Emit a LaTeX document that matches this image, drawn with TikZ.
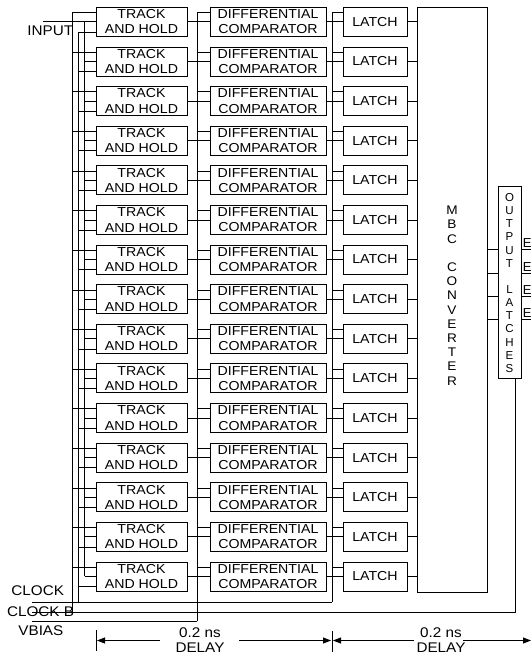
\documentclass[tikz,border=0pt]{standalone}
\usepackage{fontspec}
\setmainfont{Liberation Sans}
\newfontfamily\wfont[FakeStretch=1.09]{Liberation Sans}
\usetikzlibrary{arrows.meta}
\begin{document}
\begin{tikzpicture}[x=1pt,y=-1pt,
  line width=0.8pt,
  box/.style={draw, line width=0.8pt, inner sep=0pt, align=center, minimum height=29pt, font=\wfont\fontsize{13}{15.3}\selectfont},
  thbox/.style={box, minimum width=91pt},
  dcbox/.style={box, minimum width=116pt},
  labox/.style={box, minimum width=64pt},
  lbl/.style={inner sep=0pt, font=\wfont\fontsize{14}{15}\selectfont},
  dly/.style={lbl, align=center},
  vtext/.style={inner sep=0pt, align=center},
  darr/.style={-{Triangle[length=8pt,width=6pt]}},
]
\useasboundingbox (0,0) rectangle (531,658);

% rows of boxes
\foreach \i in {0,...,14}{
  \pgfmathsetmacro{\yc}{7.3+39.62*\i+14.5}
  \node[thbox] (th\i) at (141.5,\yc) {TRACK\\AND HOLD};
  \node[dcbox] (dc\i) at (268,\yc) {DIFFERENTIAL\\COMPARATOR};
  \node[labox] (la\i) at (375,\yc) {LATCH};
}

% MBC converter
\node[draw, inner sep=0pt, minimum width=70pt, minimum height=584.7pt] (mbc) at (452,299.65) {};
\node[vtext, font=\wfont\fontsize{12.5}{14.2}\selectfont] (mbctext) at (452,295.5)
  {M\\B\\C\\~\\C\\O\\N\\V\\E\\R\\T\\E\\R};

% output latches
\node[draw, inner sep=0pt, minimum width=23pt, minimum height=192pt] (ol) at (509.5,282) {};
\node[vtext, font=\fontsize{11.5}{13.15}\selectfont] (oltext) at (509.5,283)
  {O\\U\\T\\P\\U\\T\\~\\L\\A\\T\\C\\H\\E\\S};

% row connectors
\foreach \i in {0,...,14}{
  \pgfmathsetmacro{\yt}{7.3+39.62*\i+5.3}
  \pgfmathsetmacro{\yb}{7.3+39.62*\i+24.7}
  \draw (th\i.east) -- (dc\i.west);
  \draw (dc\i.east) -- (la\i.west);
  \draw (la\i.east) -- (mbc.west |- la\i.east);
  \draw (72.3,\yt) -- (th\i.west |- 0,\yt);
  \draw (78.5,\yb) -- (th\i.west |- 0,\yb);
  \draw (197,\yt) -- (dc\i.west |- 0,\yt);
  \draw (332,\yt) -- (la\i.west |- 0,\yt);
}
\foreach \i in {1,...,14}{
  \draw (84.5,0 |- th\i.west) -- (th\i.west);
}
\coordinate (inStart) at (43,0 |- th0.west);
\draw (inStart) -- (th0.west);

% buses
\draw (72.3,12.6) -- (72.3,612);
\draw (78.5,32) -- (78.5,602);
\draw (84.5,0 |- th0.west) -- (84.5,0 |- th14.west);
\draw (197,12.6) -- (197,621);
\draw (332,12.6) -- (332,602);

% bottom lines
\draw (32,602) -- (332,602);
\draw (32,612) -- (515,612) -- (ol.south -| 515,0);
\draw (32,621) -- (197,621);

% MBC to output latches, outputs
\foreach \y in {249,273,296,319}{
  \draw (mbc.east |- 0,\y) -- (ol.west |- 0,\y);
  \draw (ol.east |- 0,\y) -- (531,\y);
  \node[inner sep=0pt, anchor=south west, font=\fontsize{13}{14}\selectfont] at (522.5,\y-1) {E};
}

% labels
\node[lbl, anchor=west] (inlbl) at (27,31) {INPUT};
\node[lbl, anchor=west] (clklbl) at (11,591) {CLOCK};
\node[lbl, anchor=west] (clkblbl) at (6.7,611.5) {CLOCK B};
\node[lbl, anchor=west] (vblbl) at (18,630.5) {VBIAS};

% delay markers
\draw (96,630) -- (96,651);
\draw (332,631) -- (332,652);
\draw[darr] (160,640.5) -- (97,640.5);
\draw[darr] (239,640.5) -- (331,640.5);
\draw[darr] (414,640.5) -- (333,640.5);
\draw[darr] (463,640.5) -- (531,640.5);
\node[dly] (d1) at (200,640.5) {0.2 ns\\DELAY};
\node[dly] (d2) at (441,640.5) {0.2 ns\\DELAY};
\end{tikzpicture}
\end{document}
